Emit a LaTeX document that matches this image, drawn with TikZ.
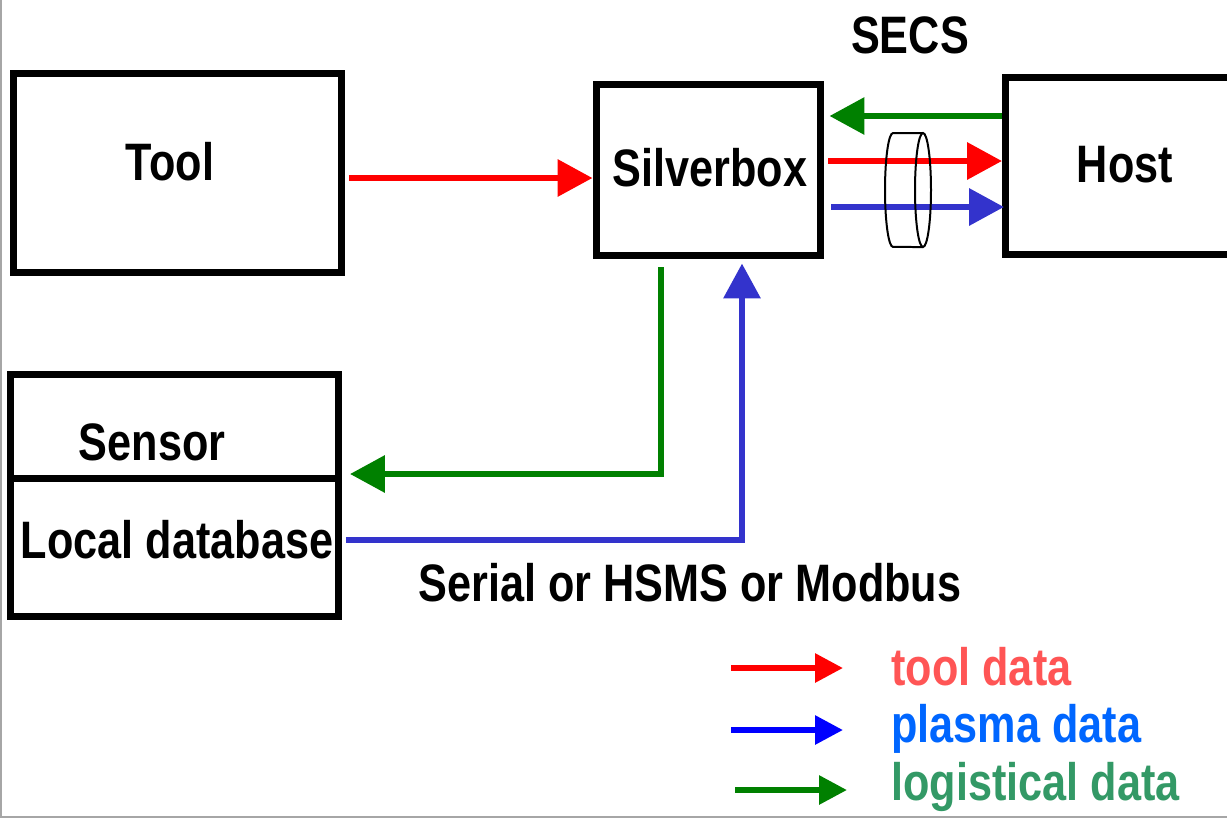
\documentclass[tikz,border=0pt]{standalone}
\usepackage{fontspec}
\setmainfont{Liberation Sans}[FakeStretch=0.82]
\usetikzlibrary{arrows.meta,positioning,calc}

\definecolor{flowred}{HTML}{FF0000}
\definecolor{flowblue}{HTML}{3333CC}
\definecolor{flowgreen}{HTML}{008000}
\definecolor{keyblue}{HTML}{0000FF}
\definecolor{tooltext}{HTML}{FF5555}
\definecolor{plasmatext}{HTML}{0066FF}
\definecolor{logitext}{HTML}{339966}

\begin{document}
\begin{tikzpicture}[
    x=0.02cm, y=-0.02cm,
    box/.style={draw, line width=0.14cm, inner sep=0pt},
    lbl/.style={inner sep=0pt, font=\fontsize{30}{36}\selectfont\bfseries},
    flow/.style={line width=0.13cm, -{Triangle[length=0.7cm, width=0.72cm]}},
    key/.style={line width=0.12cm, -{Triangle[length=0.56cm, width=0.56cm]}}
]
\useasboundingbox (0,0) rectangle (1227,819);

% Frame edges
\draw[black!35, line width=0.05cm] (1,0) -- (1,817) -- (1227,817);

% Boxes
\node[box, minimum width=6.56cm, minimum height=3.98cm] (tool) at (177.5,173) {};
\node[box, minimum width=4.5cm, minimum height=3.44cm] (silverbox) at (708.5,170) {};
\node[box, minimum width=4.78cm, minimum height=3.54cm] (host) at (1125,166) {};
\node[box, minimum width=6.56cm, minimum height=4.84cm] (sensor) at (174.5,495.5) {};
\draw[line width=0.14cm] (sensor.west |- 0,478) -- (sensor.east |- 0,478);

% Box texts
\node[lbl] (tooltxt) at (170,162) {Tool};
\node[lbl] (silvertxt) at (710,168) {Silverbox};
\node[lbl] (hosttxt) at (1125,165) {Host};
\node[lbl] (sensortxt) at (152,442) {Sensor};
\node[lbl] (dbtxt) at (177,540) {Local database};

% Link labels
\node[lbl] (secs) at (910,35) {SECS};
\node[lbl] (serial) at (690,583) {Serial or HSMS or Modbus};

% Arrows
\draw[flow, flowred] ([xshift=0.08cm]tool.east |- 0,178) -- (silverbox.west |- 0,178);
\draw[flow, flowgreen] (host.west |- 0,116) -- ([xshift=0.1cm]silverbox.east |- 0,116);
\draw[flow, flowred] ([xshift=0.08cm]silverbox.east |- 0,161) -- (host.west |- 0,161);
\draw[flow, flowblue] ([xshift=0.14cm]silverbox.east |- 0,207) -- ([xshift=0.04cm]host.west |- 0,207);

\draw[flow, flowgreen] ([yshift=-0.16cm]silverbox.south -| 661,0) |- ([xshift=0.16cm]sensor.east |- 0,474);
\draw[flow, flowblue] ([xshift=0.08cm]sensor.east |- 0,540) -| ([yshift=-0.08cm]silverbox.south -| 742,0);

% SECS cable
\draw[line width=0.04cm] (923,133) -- (893,133)
    arc[start angle=90, end angle=270, x radius=0.16cm, y radius=1.14cm] -- (923,247);
\draw[line width=0.04cm] (923,190) ellipse[x radius=0.16cm, y radius=1.14cm];

% Legend
\coordinate (redkey) at (731,668);
\coordinate (bluekey) at (731,730);
\coordinate (greenkey) at (735,790);
\draw[key, flowred] (redkey) -- ++(112,0);
\draw[key, keyblue] (bluekey) -- ++(112,0);
\draw[key, flowgreen] (greenkey) -- ++(112,0);

\node[lbl, anchor=base west, text=tooltext] (tooldata) at (891,685) {tool data};
\node[lbl, anchor=base west, text=plasmatext] (plasmadata) at (891,742) {plasma data};
\node[lbl, anchor=base west, text=logitext] (logidata) at (891,800) {logistical data};

\end{tikzpicture}
\end{document}
